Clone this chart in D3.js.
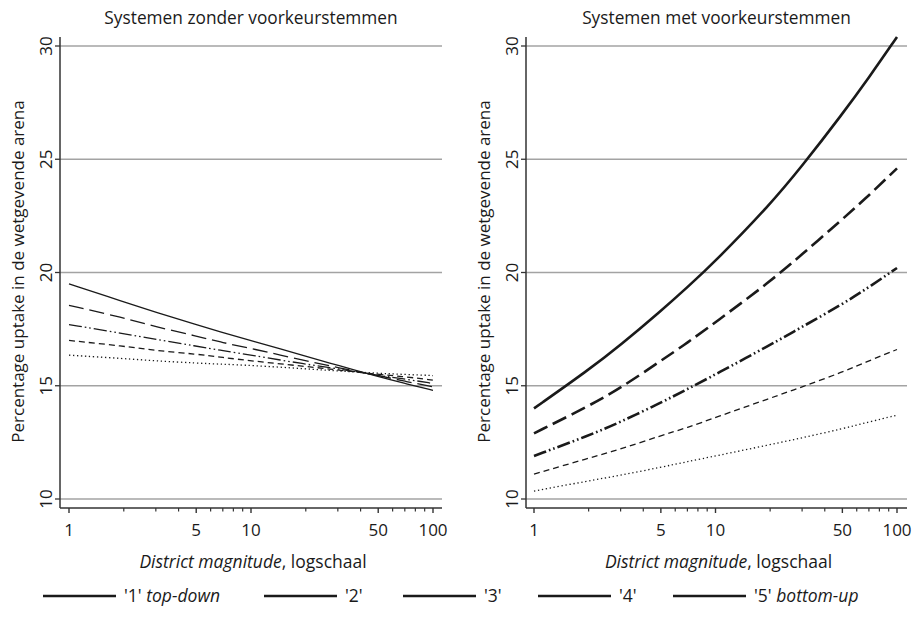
<!DOCTYPE html>
<html>
<head>
<meta charset="utf-8">
<script src="https://cdn.jsdelivr.net/npm/d3@7"></script>
<style>
  html, body { margin: 0; padding: 0; background: #fff; }
  svg { display: block; font-family: "Open Sans", "Noto Sans", sans-serif; }
</style>
</head>
<body>
<svg id="chart" width="918" height="618"></svg>
<script>
// ---- DATA ----
const magnitudes = [1, 2, 3, 5, 7, 10, 20, 30, 50, 70, 100];
const xTickLabels = [1, 5, 10, 50, 100];
const xMinorTicks = [2, 3, 4, 6, 7, 8, 9, 20, 30, 40, 60, 70, 80, 90];
const yTickLabels = [10, 15, 20, 25, 30];
const panelTitles = ["Systemen zonder voorkeurstemmen", "Systemen met voorkeurstemmen"];
const legendLabels = [["'1' ", "top-down"], ["'2'", ""], ["'3'", ""], ["'4'", ""], ["'5' ", "bottom-up"]];

// Panel 1: zonder voorkeurstemmen
const zonderSolid     = [19.5, 18.7, 18.25, 17.7, 17.35, 17.0, 16.3, 15.9, 15.4, 15.1, 14.8];
const zonderLongDash  = [18.55, 18.0, 17.6, 17.2, 16.9, 16.65, 16.1, 15.8, 15.45, 15.2, 14.95];
const zonderDashDot   = [17.7, 17.3, 17.05, 16.75, 16.55, 16.35, 15.95, 15.75, 15.45, 15.3, 15.1];
const zonderShortDash = [17.0, 16.75, 16.55, 16.4, 16.25, 16.1, 15.85, 15.7, 15.5, 15.4, 15.25];
const zonderDot       = [16.35, 16.2, 16.1, 16.0, 15.95, 15.9, 15.75, 15.65, 15.55, 15.5, 15.45];

// Panel 2: met voorkeurstemmen
const metSolid     = [14.0, 15.7, 16.8, 18.3, 19.35, 20.5, 23.0, 24.7, 27.0, 28.6, 30.4];
const metLongDash  = [12.9, 14.1, 14.9, 16.1, 16.9, 17.8, 19.6, 20.8, 22.35, 23.4, 24.6];
const metDashDot   = [11.9, 12.8, 13.4, 14.25, 14.85, 15.5, 16.8, 17.6, 18.6, 19.35, 20.2];
const metShortDash = [11.1, 11.8, 12.2, 12.8, 13.15, 13.6, 14.45, 14.95, 15.6, 16.1, 16.6];
const metDot       = [10.35, 10.8, 11.05, 11.4, 11.65, 11.9, 12.4, 12.7, 13.1, 13.4, 13.7];

// ---- STYLES ----
const styles = {
  solid:     { dash: null },
  longDash:  { dash: "15,6" },
  dashDot:   { dash: "13,3,1.6,3,1.6,3" },
  shortDash: { dash: "6,4" },
  dot:       { dash: "1.3,2.7" }
};

const panels = [
  {
    title: panelTitles[0],
    xRange: [69, 433], axisX: 60, right: 442,
    series: [
      { v: zonderSolid, s: "solid", w: 1.3 },
      { v: zonderLongDash, s: "longDash", w: 1.3 },
      { v: zonderDashDot, s: "dashDot", w: 1.3 },
      { v: zonderShortDash, s: "shortDash", w: 1.3 },
      { v: zonderDot, s: "dot", w: 1.3 }
    ]
  },
  {
    title: panelTitles[1],
    xRange: [534, 897], axisX: 526, right: 907,
    series: [
      { v: metSolid, s: "solid", w: 2.6 },
      { v: metLongDash, s: "longDash", w: 2.6 },
      { v: metDashDot, s: "dashDot", w: 2.6 },
      { v: metShortDash, s: "shortDash", w: 1.3 },
      { v: metDot, s: "dot", w: 1.3 }
    ]
  }
];

const svg = d3.select("#chart");
const y = d3.scaleLinear().domain([10, 30]).range([499, 46]);
const axisY = 508;
const ink = "#1a1a1a";

panels.forEach(p => {
  const x = d3.scaleLog().domain([1, 100]).range(p.xRange);
  const g = svg.append("g");

  // gridlines
  g.selectAll("line.grid").data(yTickLabels).enter().append("line")
    .attr("x1", p.axisX).attr("x2", p.right)
    .attr("y1", d => y(d)).attr("y2", d => y(d))
    .attr("stroke", "#a3a3a3").attr("stroke-width", 1.4);

  // y axis line
  g.append("line").attr("x1", p.axisX).attr("x2", p.axisX)
    .attr("y1", 37).attr("y2", axisY).attr("stroke", "#333").attr("stroke-width", 1.5);
  // y ticks
  g.selectAll("line.yt").data(yTickLabels).enter().append("line")
    .attr("x1", p.axisX - 5).attr("x2", p.axisX)
    .attr("y1", d => y(d)).attr("y2", d => y(d))
    .attr("stroke", "#333").attr("stroke-width", 1.3);
  g.selectAll("text.yl").data(yTickLabels).enter().append("text")
    .attr("transform", d => `translate(${p.axisX - 15},${y(d)}) rotate(-90)`)
    .attr("text-anchor", "middle").attr("dominant-baseline", "central")
    .attr("font-size", 17).attr("fill", ink)
    .text(d => d);

  // y label
  g.append("text")
    .attr("transform", `translate(${p.axisX - 43},${(y(10) + y(30)) / 2 - 1}) rotate(-90)`)
    .attr("text-anchor", "middle").attr("dominant-baseline", "central")
    .attr("font-size", 17).attr("fill", ink)
    .text("Percentage uptake in de wetgevende arena");

  // x axis line
  g.append("line").attr("x1", p.axisX).attr("x2", p.right)
    .attr("y1", axisY).attr("y2", axisY).attr("stroke", "#333").attr("stroke-width", 1.5);
  g.selectAll("line.xt").data(xTickLabels).enter().append("line")
    .attr("x1", d => x(d)).attr("x2", d => x(d))
    .attr("y1", axisY).attr("y2", axisY + 5)
    .attr("stroke", "#333").attr("stroke-width", 1.4);
  g.selectAll("line.xm").data(xMinorTicks).enter().append("line")
    .attr("x1", d => x(d)).attr("x2", d => x(d))
    .attr("y1", axisY).attr("y2", axisY + 3.5)
    .attr("stroke", "#333").attr("stroke-width", 1.2);
  g.selectAll("text.xl").data(xTickLabels).enter().append("text")
    .attr("x", d => x(d)).attr("y", axisY + 28)
    .attr("text-anchor", "middle").attr("font-size", 17).attr("fill", ink)
    .text(d => d);

  // x label
  const xl = g.append("text")
    .attr("x", (p.axisX + p.right) / 2 + 2).attr("y", 568)
    .attr("text-anchor", "middle").attr("font-size", 17.5).attr("fill", ink);
  xl.append("tspan").attr("font-style", "italic").text("District magnitude");
  xl.append("tspan").text(", logschaal");

  // title
  g.append("text")
    .attr("x", (p.axisX + p.right) / 2).attr("y", 24)
    .attr("text-anchor", "middle").attr("font-size", 17.3).attr("fill", ink)
    .text(p.title);

  // lines
  const line = d3.line()
    .x((d, i) => x(magnitudes[i]))
    .y(d => y(d))
    .curve(d3.curveBasis);
  p.series.forEach(s => {
    g.append("path")
      .attr("d", line(s.v))
      .attr("fill", "none")
      .attr("stroke", ink)
      .attr("stroke-width", s.w)
      .attr("stroke-dasharray", styles[s.s].dash);
  });
});

// legend
const legendX = [43, 264, 403, 538, 673];
const lg = svg.append("g");
legendLabels.forEach((lab, i) => {
  lg.append("line")
    .attr("x1", legendX[i]).attr("x2", legendX[i] + 73)
    .attr("y1", 596).attr("y2", 596)
    .attr("stroke", ink).attr("stroke-width", 2.6);
  const t = lg.append("text")
    .attr("x", legendX[i] + 81).attr("y", 602)
    .attr("font-size", 17.5).attr("fill", ink);
  t.append("tspan").text(lab[0]);
  if (lab[1]) t.append("tspan").attr("font-style", "italic").text(lab[1]);
});
</script>
</body>
</html>
